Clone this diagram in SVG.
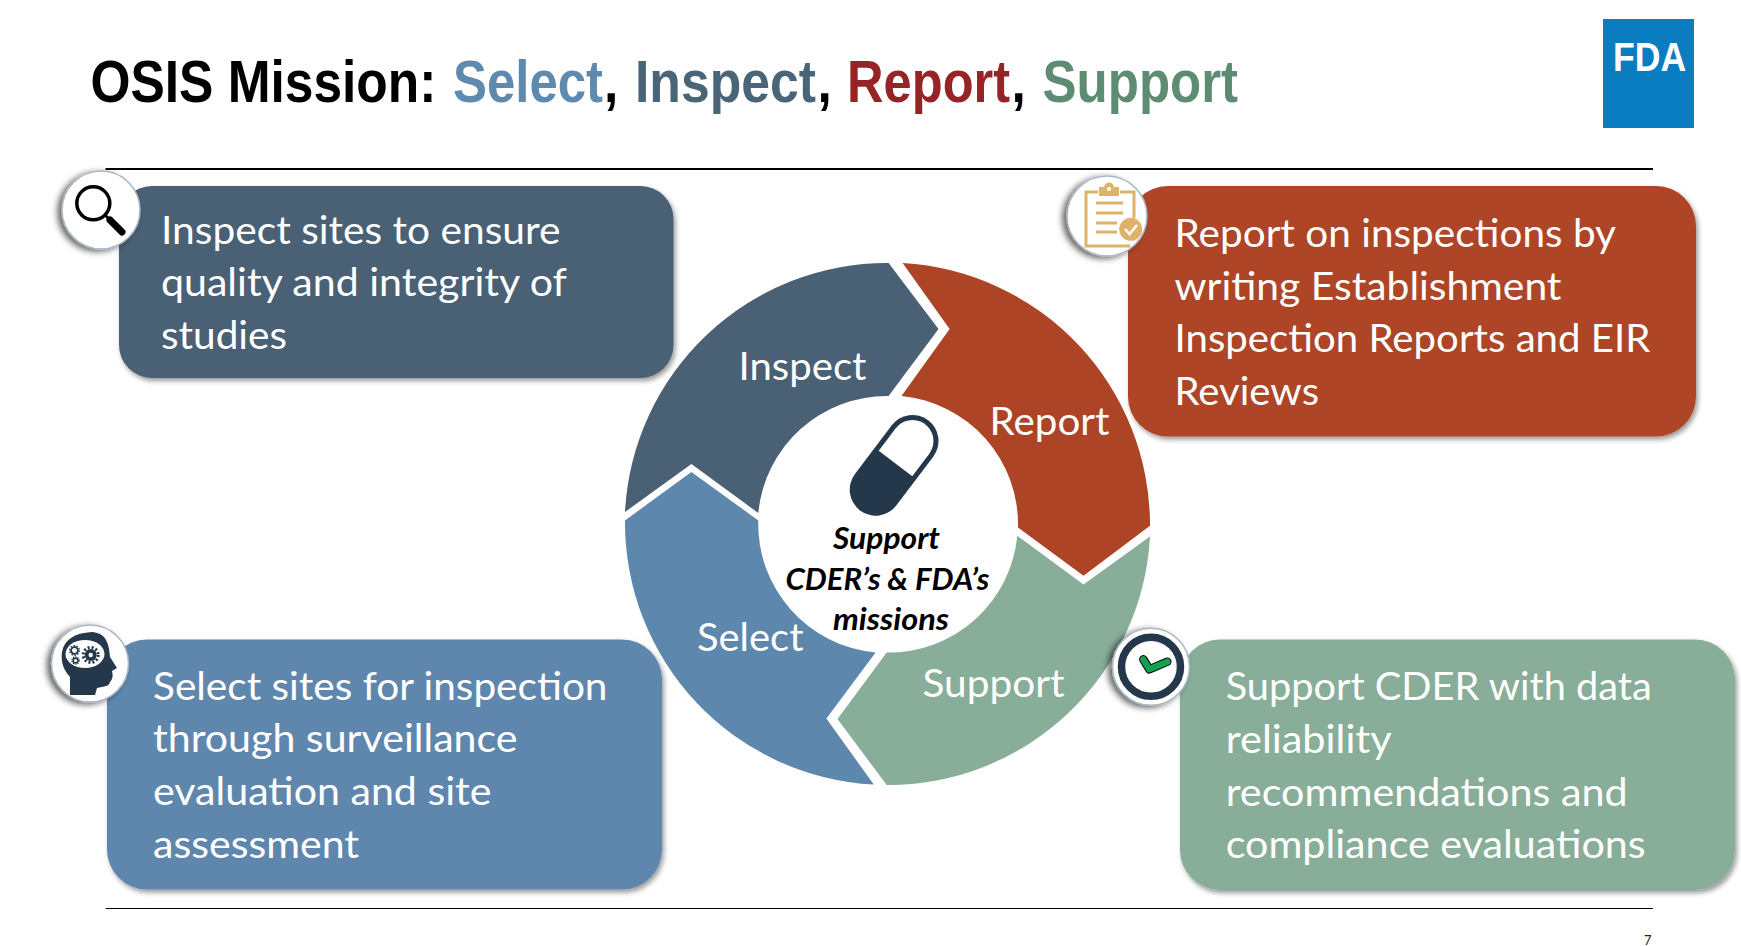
<svg xmlns="http://www.w3.org/2000/svg" width="1741" height="946" viewBox="0 0 1741 946">
<style>
.t{font-family:"Lato","Carlito","Open Sans",sans-serif;font-size:39px;fill:#fff}
.l{font-family:"Lato","Carlito","Open Sans",sans-serif;font-size:39px;fill:#fff}
.c{font-family:"Lato","Carlito","Open Sans",sans-serif;font-size:30px;font-weight:700;font-style:italic;fill:#000}
.title{font-family:"Liberation Sans",Arial,sans-serif;font-size:59px;font-weight:700;fill:#000}
.disc{fill:#fff;stroke:#a9b7c4;stroke-width:1.5;filter:url(#ds)}
.box{filter:url(#bs)}
.ink{fill:#25384b}
.gold{fill:none;stroke:#ddb36a;stroke-width:3}
</style>
<defs>
<filter id="bs" x="-5%" y="-5%" width="110%" height="115%"><feDropShadow dx="2" dy="3" stdDeviation="2.5" flood-color="#000" flood-opacity=".4"/></filter>
<filter id="ds" x="-25%" y="-25%" width="150%" height="150%"><feDropShadow dx="-4" dy="2" stdDeviation="3" flood-color="#000" flood-opacity=".6"/></filter>
</defs>
<rect width="1741" height="946" fill="#fff"/>
<g id="title">
<text class="title" transform="translate(90.5 102) scale(.872 1)">OSIS Mission:</text>
<text class="title" transform="translate(453 102) scale(.863 1)" style="fill:#5f8aaf">Select</text>
<text class="title" transform="translate(604 102) scale(.87 1)">,</text>
<text class="title" transform="translate(635 102) scale(.876 1)" style="fill:#4a6478">Inspect</text>
<text class="title" transform="translate(817.5 102) scale(.87 1)">,</text>
<text class="title" transform="translate(847 102) scale(.858 1)" style="fill:#962426">Report</text>
<text class="title" transform="translate(1011.5 102) scale(.87 1)">,</text>
<text class="title" transform="translate(1042.5 102) scale(.865 1)" style="fill:#5e8c72">Support</text>
</g>
<g id="fda-logo"><rect x="1603" y="19" width="91" height="109" fill="#0a7cc0"/><text transform="translate(1613 71) scale(.89 1)" font-family="Liberation Sans,Arial,sans-serif" font-weight="700" font-size="40" fill="#fff">FDA</text></g>
<g id="rules"><line x1="105.5" y1="169" x2="1653" y2="169" stroke="#000" stroke-width="2"/><line x1="105.5" y1="908.5" x2="1653" y2="908.5" stroke="#000" stroke-width="1"/></g>
<g id="cycle">
<g id="seg-inspect"><path fill="#4a6074" d="M625 512A262.5 262.5 0 0 1 888.6 263L938.5 329L888.6 396A129 129 0 0 0 758.3 513L691.4 464Z"/><text class="l" x="738.5" y="380" textLength="128" lengthAdjust="spacingAndGlyphs">Inspect</text></g>
<g id="seg-report"><path fill="#ad4425" d="M902.6 263A262.5 262.5 0 0 1 1150 525.7L1083.5 575.7L1018 527.5A129 129 0 0 0 901.5 396L949.6 329Z"/><text class="l" x="989.5" y="435" textLength="120" lengthAdjust="spacingAndGlyphs">Report</text></g>
<g id="seg-support"><path fill="#88ad98" d="M1150 536.4A262.5 262.5 0 0 1 886.7 785L837.5 719L886.7 652.5A129 129 0 0 0 1017.3 535.7L1083.5 584.6Z"/><text class="l" x="922.5" y="697.4" textLength="142" lengthAdjust="spacingAndGlyphs">Support</text></g>
<g id="seg-select"><path fill="#5e87ad" d="M625 520.4A262.5 262.5 0 0 0 873.8 784.6L826.4 718.6L875.6 652.5A129 129 0 0 1 758.3 520.4L691.4 472Z"/><text class="l" x="697" y="651" textLength="106.5" lengthAdjust="spacingAndGlyphs">Select</text></g>
<g id="center">
<line x1="912.5" y1="441" x2="875.7" y2="489.7" stroke="#25384b" stroke-width="52" stroke-linecap="round"/>
<line x1="912.5" y1="441" x2="895.5" y2="463.5" stroke="#fff" stroke-width="42"/>
<circle cx="912.5" cy="441" r="21" fill="#fff"/>
<text class="c" x="833" y="549.4" textLength="107" lengthAdjust="spacingAndGlyphs">Support</text>
<text class="c" x="785.5" y="589.5" textLength="204" lengthAdjust="spacingAndGlyphs">CDER’s &amp; FDA’s</text>
<text class="c" x="833" y="629.5" textLength="116" lengthAdjust="spacingAndGlyphs">missions</text>
</g>
</g>
<g id="box-inspect"><rect class="box" x="119" y="186" width="554.5" height="192" rx="33" fill="#4a6074"/>
<text class="t" x="161" y="244" textLength="399.5" lengthAdjust="spacingAndGlyphs">Inspect sites to ensure</text>
<text class="t" x="161" y="296" textLength="406" lengthAdjust="spacingAndGlyphs">quality and integrity of</text>
<text class="t" x="161" y="349" textLength="126" lengthAdjust="spacingAndGlyphs">studies</text></g>
<g id="box-report"><rect class="box" x="1128" y="186" width="568" height="250.5" rx="40" fill="#ad4425"/>
<text class="t" x="1174.5" y="247" textLength="441.5" lengthAdjust="spacingAndGlyphs">Report on inspections by</text>
<text class="t" x="1174.5" y="299.5" textLength="387" lengthAdjust="spacingAndGlyphs">writing Establishment</text>
<text class="t" x="1174.5" y="352" textLength="476" lengthAdjust="spacingAndGlyphs">Inspection Reports and EIR</text>
<text class="t" x="1174.5" y="405" textLength="144.5" lengthAdjust="spacingAndGlyphs">Reviews</text></g>
<g id="box-select"><rect class="box" x="107" y="639.5" width="555" height="250" rx="40" fill="#5e87ad"/>
<text class="t" x="153" y="699.5" textLength="454.5" lengthAdjust="spacingAndGlyphs">Select sites for inspection</text>
<text class="t" x="153" y="752" textLength="364.5" lengthAdjust="spacingAndGlyphs">through surveillance</text>
<text class="t" x="153" y="805" textLength="338.5" lengthAdjust="spacingAndGlyphs">evaluation and site</text>
<text class="t" x="153" y="858" textLength="206" lengthAdjust="spacingAndGlyphs">assessment</text></g>
<g id="box-support"><rect class="box" x="1180" y="639.5" width="555" height="250.5" rx="40" fill="#88ad98"/>
<text class="t" x="1225.7" y="699.5" textLength="426" lengthAdjust="spacingAndGlyphs">Support CDER with data</text>
<text class="t" x="1225.7" y="752.7" textLength="166" lengthAdjust="spacingAndGlyphs">reliability</text>
<text class="t" x="1225.7" y="806" textLength="402" lengthAdjust="spacingAndGlyphs">recommendations and</text>
<text class="t" x="1225.7" y="858" textLength="420" lengthAdjust="spacingAndGlyphs">compliance evaluations</text></g>
<g id="icon-magnifier"><circle class="disc" cx="101" cy="210" r="39"/><circle cx="93.3" cy="203.3" r="16.5" fill="none" stroke="#000" stroke-width="3.5"/><line x1="105" y1="215" x2="109" y2="219" stroke="#000" stroke-width="3"/><line x1="110" y1="220" x2="122" y2="232" stroke="#000" stroke-width="7" stroke-linecap="round"/></g>
<g id="icon-clipboard"><circle class="disc" cx="1107" cy="216" r="40"/>
<path class="gold" d="M1098 192H1086V246H1130M1120 192H1134V218"/>
<path d="M1099 196V187H1104C1105 181 1113 181 1114 187H1119V196Z" fill="#ddb36a"/><circle cx="1109" cy="189" r="2" fill="#fff"/>
<path class="gold" stroke-width="2" d="M1096 203H1123M1096 213H1123M1096 223H1117M1096 232H1117"/>
<circle cx="1130.7" cy="229.3" r="11.5" fill="#ddb36a"/><path d="M1125 229L1129.5 234L1137 225" fill="none" stroke="#fff" stroke-width="2.5"/></g>
<g id="icon-head"><circle class="disc" cx="90" cy="663.5" r="38.5"/>
<path class="ink" d="M70 695V677C62 668 61 660 62 652C64 640 74 633 92 632C104 633 109 640 110 657L117 668L112 671C113 675 113 679 110 682C109 686 107 686 97 688L95 695Z"/>
<ellipse cx="85" cy="654" rx="19.5" ry="14" fill="#fff"/>
<circle cx="90.7" cy="655" r="6" class="ink"/><circle cx="90.7" cy="655" r="7.5" fill="none" stroke="#25384b" stroke-width="3" stroke-dasharray="2 2"/><circle cx="90.7" cy="655" r="2.2" fill="#fff"/>
<circle cx="74.5" cy="650.5" r="3.4" fill="none" stroke="#25384b" stroke-width="1.8"/><circle cx="74.5" cy="650.5" r="4.8" fill="none" stroke="#25384b" stroke-width="1.4" stroke-dasharray="1.5 1.5"/>
<circle cx="75.5" cy="660.5" r="2.4" fill="none" stroke="#25384b" stroke-width="1.6"/><circle cx="75.5" cy="660.5" r="3.7" fill="none" stroke="#25384b" stroke-width="1.2" stroke-dasharray="1.2 1.2"/></g>
<g id="icon-check"><circle class="disc" cx="1151" cy="666.7" r="38.5"/><circle cx="1151" cy="666.7" r="29.5" fill="#fff" stroke="#25384b" stroke-width="7.5"/>
<path d="M1143.3 659.3L1149.3 669.3L1167.3 661.7" fill="none" stroke="#000" stroke-width="8.5" stroke-linecap="round" stroke-linejoin="round"/><path d="M1143.3 659.3L1149.3 669.3L1167.3 661.7" fill="none" stroke="#12a150" stroke-width="6.5" stroke-linecap="round" stroke-linejoin="round"/></g>
<g id="page-number"><text x="1644" y="945" font-family="Lato,Carlito,sans-serif" font-size="13" fill="#222">7</text></g>
</svg>
